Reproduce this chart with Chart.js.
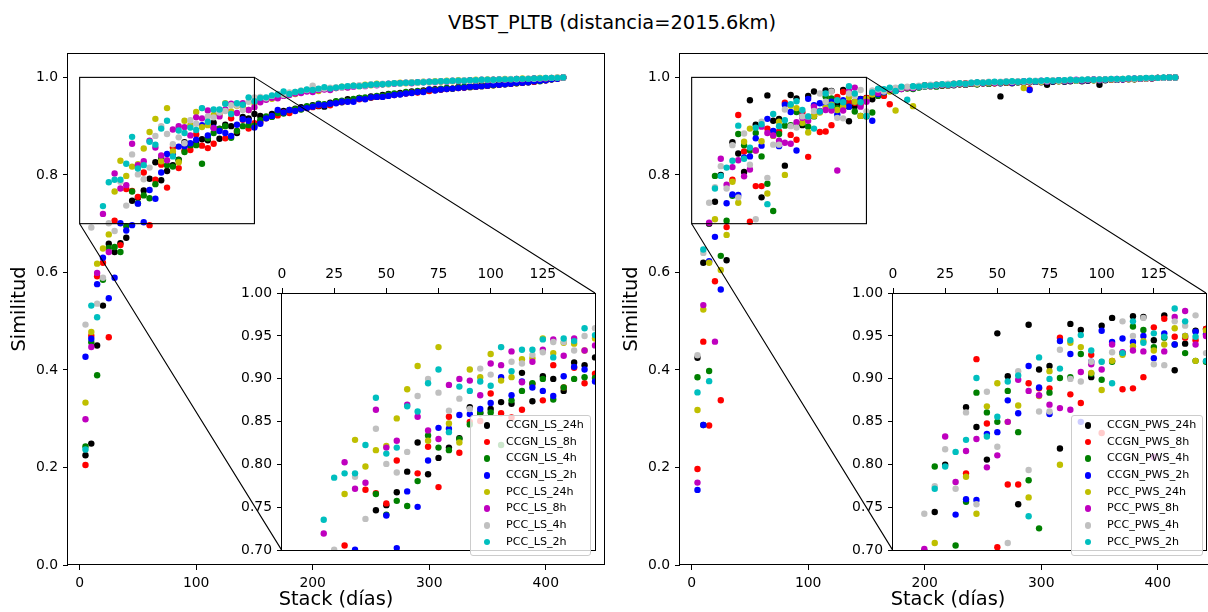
<!DOCTYPE html>
<html>
<head>
<meta charset="utf-8">
<script src="https://cdn.jsdelivr.net/npm/chart.js@4.4.1/dist/chart.umd.min.js"></script>
<style>
  html, body { margin: 0; padding: 0; background: #fff; overflow: hidden; }
  #fig { position: relative; width: 1208px; height: 612px; overflow: hidden; font-family: 'DejaVu Sans', sans-serif; color: #000; }
  #fig canvas { position: absolute; }
  #title { position: absolute; left: 0; width: 1224px; top: 11px; line-height: 23px; text-align: center; font-size: 19.4px; }
  .legend { position: absolute; background: rgba(255,255,255,0.8); border: 1px solid #cccccc; border-radius: 3px;
            font-size: 11.1px; padding: 1px 6px 4px 0; box-sizing: border-box; }
  .legend div { position: relative; height: 16.7px; line-height: 16.7px; padding-left: 35px; white-space: nowrap; }
  .legend span { position: absolute; left: 12.5px; top: 5px; width: 6.6px; height: 6.6px; border-radius: 50%; }
</style>
</head>
<body>
<div id="fig">
  <div id="title">VBST_PLTB (distancia=2015.6km)</div>
  <canvas id="mainLs" width="612" height="612" style="left:0;top:0"></canvas>
  <canvas id="mainPws" width="612" height="612" style="left:612px;top:0"></canvas>
  <canvas id="insetLs" width="380" height="306" style="left:222px;top:258px"></canvas>
  <canvas id="insetPws" width="380" height="306" style="left:833px;top:258px"></canvas>
  <div class="legend" id="legLs" style="left:470px;top:415px"></div>
  <div class="legend" id="legPws" style="left:1071px;top:415px"></div>
</div>
<script>
// stack length in days (same for every series)
const stackDays = [5,10,15,20,25,30,35,40,45,50,55,60,65,70,75,80,85,90,95,100,105,110,115,120,125,130,135,140,145,150,
  155,160,165,170,175,180,185,190,195,200,205,210,215,220,225,230,235,240,245,250,255,260,265,270,275,280,285,290,295,300,
  305,310,315,320,325,330,335,340,345,350,355,360,365,370,375,380,385,390,395,400,405,410,415];

const lsLabels = ['CCGN_LS_24h','CCGN_LS_8h','CCGN_LS_4h','CCGN_LS_2h','PCC_LS_24h','PCC_LS_8h','PCC_LS_4h','PCC_LS_2h'];
const pwsLabels = ['CCGN_PWS_24h','CCGN_PWS_8h','CCGN_PWS_4h','CCGN_PWS_2h','PCC_PWS_24h','PCC_PWS_8h','PCC_PWS_4h','PCC_PWS_2h'];

// left panel (LS)
const ccgnLs24h = [0.225,0.249,0.450,0.532,0.659,0.642,0.660,0.671,0.747,0.753,0.768,0.792,0.826,0.789,0.808,0.820,0.831,0.867,0.860,0.865,0.873,0.871,0.907,0.874,0.903,0.900,0.886,0.919,0.916,0.925,
  0.921,0.917,0.925,0.929,0.931,0.930,0.936,0.939,0.938,0.943,0.941,0.940,0.948,0.950,0.949,0.955,0.954,0.958,0.956,0.961,0.960,0.964,0.966,0.965,0.968,0.968,0.971,0.970,0.973,0.973,0.976,0.975,0.978,0.977,0.980,0.979,0.982,0.981,0.984,0.983,0.986,0.985,0.988,0.987,0.990,0.989,0.992,0.991,0.994,0.994,0.996,0.998,1.0];
const ccgnLs8h = [0.205,0.470,0.592,0.620,0.467,0.706,0.656,0.771,0.767,0.755,0.805,0.697,0.790,0.821,0.774,0.856,0.814,0.850,0.851,0.883,0.860,0.855,0.864,0.894,0.875,0.916,0.890,0.913,0.895,0.906,
  0.908,0.916,0.920,0.922,0.928,0.927,0.933,0.935,0.937,0.939,0.942,0.944,0.943,0.948,0.950,0.951,0.954,0.955,0.957,0.958,0.960,0.961,0.963,0.964,0.966,0.967,0.969,0.969,0.971,0.972,0.974,0.975,0.976,0.977,0.978,0.979,0.980,0.981,0.982,0.983,0.984,0.985,0.986,0.987,0.988,0.989,0.990,0.991,0.993,0.994,0.996,0.997,1.0];
const ccgnLs4h = [0.243,0.457,0.389,0.585,0.650,0.652,0.642,0.695,0.766,0.742,0.758,0.752,0.781,0.834,0.820,0.817,0.830,0.847,0.861,0.861,0.823,0.875,0.886,0.895,0.900,0.876,0.890,0.900,0.902,0.901,
  0.912,0.920,0.919,0.927,0.926,0.933,0.935,0.934,0.941,0.942,0.946,0.945,0.946,0.951,0.952,0.952,0.956,0.958,0.959,0.959,0.962,0.962,0.965,0.967,0.966,0.970,0.969,0.972,0.971,0.975,0.974,0.977,0.978,0.977,0.980,0.981,0.980,0.983,0.982,0.985,0.984,0.987,0.986,0.989,0.988,0.991,0.990,0.993,0.992,0.995,0.996,0.998,1.0];
const ccgnLs2h = [0.427,0.464,0.576,0.630,0.547,0.589,0.701,0.686,0.697,0.741,0.703,0.769,0.751,0.805,0.843,0.842,0.858,0.859,0.865,0.872,0.902,0.881,0.897,0.890,0.886,0.880,0.903,0.914,0.911,0.897,
  0.905,0.916,0.921,0.933,0.928,0.933,0.931,0.936,0.937,0.940,0.944,0.943,0.946,0.947,0.950,0.950,0.950,0.956,0.955,0.959,0.960,0.960,0.962,0.964,0.965,0.967,0.968,0.970,0.970,0.975,0.973,0.975,0.976,0.977,0.978,0.979,0.981,0.981,0.982,0.983,0.985,0.985,0.986,0.987,0.989,0.989,0.990,0.992,0.993,0.994,0.996,0.997,1.0];
const pccLs24h = [0.333,0.478,0.618,0.649,0.678,0.766,0.829,0.798,0.817,0.822,0.854,0.888,0.915,0.828,0.937,0.848,0.826,0.911,0.902,0.929,0.898,0.902,0.923,0.924,0.947,0.930,0.942,0.941,0.933,0.947,
  0.952,0.957,0.956,0.961,0.963,0.968,0.966,0.970,0.973,0.975,0.972,0.976,0.978,0.978,0.981,0.980,0.983,0.982,0.985,0.984,0.987,0.986,0.986,0.988,0.989,0.988,0.990,0.989,0.991,0.990,0.992,0.991,0.993,0.992,0.994,0.993,0.994,0.995,0.994,0.996,0.995,0.996,0.997,0.996,0.997,0.998,0.997,0.998,0.999,0.998,0.999,1.0,1.0];
const pccLs8h = [0.299,0.447,0.599,0.720,0.642,0.803,0.772,0.779,0.864,0.820,0.828,0.870,0.856,0.840,0.830,0.893,0.900,0.898,0.881,0.918,0.916,0.932,0.896,0.920,0.934,0.946,0.927,0.947,0.933,0.939,
  0.949,0.954,0.958,0.957,0.962,0.964,0.967,0.968,0.971,0.970,0.974,0.975,0.974,0.978,0.979,0.979,0.981,0.983,0.982,0.985,0.984,0.986,0.987,0.987,0.988,0.989,0.988,0.990,0.990,0.991,0.990,0.992,0.991,0.993,0.992,0.993,0.994,0.993,0.995,0.994,0.995,0.996,0.995,0.996,0.997,0.996,0.997,0.998,0.997,0.998,0.999,0.999,1.0];
const pccLs4h = [0.493,0.692,0.536,0.589,0.701,0.685,0.786,0.737,0.842,0.801,0.791,0.815,0.880,0.900,0.884,0.863,0.877,0.865,0.912,0.905,0.937,0.920,0.918,0.928,0.931,0.943,0.943,0.933,0.950,0.959,
  0.960,0.957,0.962,0.966,0.964,0.969,0.970,0.973,0.974,0.983,0.976,0.977,0.979,0.980,0.979,0.982,0.983,0.984,0.983,0.986,0.985,0.987,0.986,0.988,0.987,0.989,0.990,0.989,0.991,0.990,0.991,0.992,0.992,0.993,0.993,0.994,0.993,0.994,0.995,0.995,0.994,0.996,0.996,0.997,0.996,0.997,0.998,0.997,0.998,0.999,0.999,1.0,1.0];
const pccLs2h = [0.237,0.532,0.508,0.736,0.785,0.790,0.790,0.823,0.878,0.813,0.820,0.868,0.862,0.895,0.911,0.838,0.891,0.886,0.897,0.892,0.937,0.909,0.934,0.934,0.946,0.925,0.947,0.944,0.959,0.951,
  0.958,0.959,0.963,0.965,0.971,0.966,0.970,0.972,0.975,0.974,0.977,0.980,0.977,0.979,0.981,0.982,0.983,0.982,0.984,0.985,0.986,0.986,0.987,0.988,0.988,0.989,0.989,0.990,0.990,0.991,0.991,0.992,0.992,0.993,0.993,0.993,0.994,0.994,0.995,0.995,0.995,0.996,0.996,0.996,0.997,0.997,0.997,0.998,0.998,0.999,0.999,0.999,1.0];

// right panel (PWS)
const ccgnPws24h = [0.425,0.620,0.700,0.745,0.800,0.625,0.867,0.844,0.806,0.953,0.903,0.754,0.963,0.911,0.915,0.819,0.964,0.957,0.902,0.962,0.971,0.930,0.973,0.972,0.945,0.974,0.910,0.941,0.956,0.958,
  0.955,0.968,0.974,0.976,0.975,0.979,0.978,0.981,0.980,0.983,0.982,0.984,0.983,0.985,0.984,0.986,0.985,0.987,0.986,0.988,0.987,0.988,0.961,0.989,0.988,0.990,0.989,0.990,0.991,0.990,0.985,0.991,0.992,0.991,0.992,0.993,0.992,0.993,0.994,0.985,0.994,0.995,0.995,0.996,0.996,0.997,0.997,0.998,0.998,0.999,0.999,1.0,1.0];
const ccgnPws8h = [0.197,0.458,0.286,0.582,0.338,0.693,0.790,0.923,0.848,0.704,0.777,0.777,0.895,0.889,0.889,0.948,0.882,0.872,0.928,0.837,0.921,0.888,0.889,0.902,0.960,0.970,0.949,0.948,0.945,0.958,
  0.968,0.972,0.962,0.945,0.977,0.979,0.980,0.979,0.982,0.984,0.983,0.985,0.984,0.986,0.987,0.986,0.988,0.987,0.989,0.988,0.989,0.988,0.990,0.989,0.990,0.991,0.990,0.976,0.991,0.992,0.991,0.992,0.993,0.992,0.993,0.994,0.993,0.994,0.995,0.994,0.995,0.996,0.995,0.996,0.997,0.996,0.997,0.998,0.998,0.999,0.999,1.0,1.0];
const ccgnPws4h = [0.385,0.287,0.398,0.798,0.634,0.706,0.757,0.884,0.861,0.850,0.886,0.838,0.782,0.726,0.884,0.901,0.902,0.929,0.906,0.899,0.920,0.930,0.961,0.957,0.937,0.948,0.940,0.930,0.921,0.920,
  0.928,0.962,0.969,0.973,0.972,0.976,0.977,0.976,0.979,0.981,0.982,0.981,0.984,0.983,0.985,0.986,0.985,0.987,0.986,0.988,0.987,0.989,0.988,0.990,0.989,0.990,0.991,0.990,0.991,0.992,0.991,0.992,0.993,0.992,0.993,0.994,0.993,0.994,0.995,0.994,0.995,0.996,0.995,0.996,0.997,0.996,0.997,0.998,0.998,0.999,0.999,1.0,1.0];
const ccgnPws2h = [0.154,0.287,0.623,0.673,0.565,0.742,0.760,0.759,0.836,0.838,0.875,0.860,0.915,0.890,0.859,0.944,0.929,0.850,0.920,0.956,0.943,0.947,0.943,0.950,0.924,0.953,0.940,0.950,0.955,0.952,
  0.911,0.966,0.970,0.974,0.973,0.977,0.979,0.978,0.981,0.982,0.984,0.983,0.985,0.986,0.985,0.987,0.986,0.988,0.987,0.989,0.988,0.989,0.988,0.990,0.989,0.990,0.991,0.974,0.991,0.992,0.991,0.992,0.993,0.992,0.993,0.994,0.993,0.994,0.995,0.994,0.995,0.996,0.995,0.996,0.997,0.997,0.998,0.997,0.998,0.999,0.999,1.0,1.0];
const pccPws24h = [0.318,0.524,0.620,0.709,0.605,0.677,0.786,0.743,0.868,0.895,0.850,0.869,0.762,0.880,0.909,0.800,0.942,0.937,0.907,0.887,0.921,0.928,0.938,0.944,0.933,0.940,0.959,0.950,0.921,0.956,
  0.965,0.970,0.973,0.971,0.932,0.977,0.979,0.941,0.981,0.983,0.982,0.984,0.985,0.984,0.986,0.987,0.986,0.988,0.987,0.989,0.988,0.990,0.989,0.990,0.991,0.990,0.978,0.991,0.992,0.991,0.992,0.993,0.992,0.993,0.994,0.993,0.994,0.995,0.994,0.995,0.996,0.995,0.996,0.997,0.996,0.997,0.998,0.997,0.998,0.999,0.999,1.0,1.0];
const pccPws8h = [0.169,0.533,0.702,0.458,0.833,0.780,0.816,0.830,0.797,0.811,0.850,0.899,0.886,0.881,0.870,0.866,0.864,0.908,0.917,0.911,0.940,0.931,0.933,0.932,0.809,0.932,0.972,0.979,0.940,0.950,
  0.970,0.968,0.973,0.975,0.977,0.976,0.979,0.978,0.981,0.983,0.982,0.984,0.985,0.984,0.986,0.987,0.986,0.988,0.989,0.988,0.990,0.989,0.990,0.991,0.990,0.991,0.992,0.991,0.992,0.993,0.992,0.993,0.994,0.993,0.994,0.995,0.994,0.995,0.996,0.995,0.996,0.996,0.997,0.996,0.997,0.998,0.997,0.998,0.998,0.999,0.999,1.0,1.0];
const pccPws4h = [0.430,0.640,0.743,0.775,0.818,0.772,0.861,0.754,0.885,0.821,0.709,0.909,0.794,0.862,0.862,0.934,0.900,0.897,0.920,0.920,0.931,0.967,0.950,0.971,0.917,0.916,0.967,0.962,0.974,0.930,
  0.973,0.975,0.971,0.977,0.979,0.978,0.981,0.980,0.983,0.982,0.985,0.984,0.986,0.987,0.986,0.988,0.987,0.989,0.988,0.990,0.991,0.990,0.991,0.992,0.991,0.992,0.991,0.992,0.993,0.992,0.993,0.994,0.993,0.994,0.995,0.994,0.995,0.996,0.995,0.996,0.996,0.997,0.996,0.997,0.998,0.997,0.998,0.998,0.999,0.999,0.999,1.0,1.0];
const pccPws2h = [0.354,0.647,0.377,0.772,0.798,0.815,0.829,0.901,0.833,0.856,0.897,0.904,0.740,0.925,0.900,0.912,0.945,0.951,0.933,0.920,0.895,0.930,0.967,0.942,0.953,0.949,0.982,0.967,0.949,0.921,
  0.969,0.977,0.976,0.979,0.972,0.981,0.954,0.982,0.981,0.984,0.983,0.985,0.986,0.985,0.987,0.988,0.987,0.989,0.990,0.989,0.990,0.991,0.990,0.991,0.992,0.991,0.992,0.993,0.992,0.993,0.994,0.993,0.994,0.994,0.995,0.994,0.995,0.996,0.995,0.996,0.996,0.997,0.997,0.997,0.998,0.998,0.998,0.999,0.999,0.999,1.0,1.0,1.0];

const lsSeries = [ccgnLs24h, ccgnLs8h, ccgnLs4h, ccgnLs2h, pccLs24h, pccLs8h, pccLs4h, pccLs2h];
const pwsSeries = [ccgnPws24h, ccgnPws8h, ccgnPws4h, ccgnPws2h, pccPws24h, pccPws8h, pccPws4h, pccPws2h];

const mainXTicks = [0, 100, 200, 300, 400];
const mainYTicks = [0.0, 0.2, 0.4, 0.6, 0.8, 1.0];
const insetXTicks = [0, 25, 50, 75, 100, 125];
const insetYTicks = [0.70, 0.75, 0.80, 0.85, 0.90, 0.95, 1.00];
const insetXRange = [0, 150];
const insetYRange = [0.70, 1.00];

const seriesColors = ['#000000', '#ff0000', '#008000', '#0000ff', '#bfbf00', '#bf00bf', '#c0c0c0', '#00bfbf'];

Chart.defaults.font.family = "'DejaVu Sans', sans-serif";
Chart.defaults.color = '#000';

function makeDatasets(labels, series, clipped) {
  return series.map((vals, i) => ({
    label: labels[i],
    data: stackDays.map((d, j) => ({ x: d, y: vals[j] })),
    backgroundColor: seriesColors[i],
    borderWidth: 0,
    pointRadius: 3.2,
    pointHoverRadius: 3.2,
    order: series.length - i,
    clip: clipped ? 0 : undefined
  }));
}

const framePlugin = {
  id: 'frame',
  afterDraw(chart) {
    const { ctx, chartArea: a } = chart;
    ctx.save();
    ctx.strokeStyle = '#000';
    ctx.lineWidth = 1;
    ctx.strokeRect(Math.round(a.left) - 0.5, Math.round(a.top) + 0.5,
      Math.round(a.right - a.left) + 1, Math.round(a.bottom - a.top) - 1);
    ctx.restore();
  }
};

const whiteArea = {
  id: 'whiteArea',
  beforeDraw(chart) {
    const { ctx, chartArea: a } = chart;
    ctx.save();
    ctx.fillStyle = '#fff';
    ctx.fillRect(a.left, a.top, a.right - a.left, a.bottom - a.top);
    ctx.restore();
  }
};

function axisCommon(extra) {
  return Object.assign({
    type: 'linear',
    grid: { drawOnChartArea: false, drawTicks: true, tickLength: 5, color: '#000', lineWidth: 1 },
    border: { display: false }
  }, extra);
}

function buildInset(id, labels, series) {
  return new Chart(document.getElementById(id), {
    type: 'scatter',
    data: { datasets: makeDatasets(labels, series, true) },
    options: {
      responsive: false, animation: false, events: [],
      layout: { padding: { left: 0, top: 0, right: 7, bottom: 7 } },
      plugins: { legend: { display: false }, tooltip: { enabled: false } },
      scales: {
        x: axisCommon({
          position: 'top', min: insetXRange[0], max: insetXRange[1],
          afterFit: s => { s.height = 35; },
          afterBuildTicks: s => { s.ticks = insetXTicks.map(v => ({ value: v })); },
          ticks: { padding: 5, autoSkip: false, maxRotation: 0, font: { size: 13.9 }, color: '#000', callback: v => String(v) }
        }),
        y: axisCommon({
          min: insetYRange[0], max: insetYRange[1],
          afterFit: s => { s.width = 60; },
          afterBuildTicks: s => { s.ticks = insetYTicks.map(v => ({ value: v })); },
          ticks: { padding: 5, autoSkip: false, font: { size: 13.9 }, color: '#000', callback: v => Number(v).toFixed(2) }
        })
      }
    },
    plugins: [whiteArea, framePlugin]
  });
}

function insetLinks(inset, dx, dy) {
  return {
    id: 'insetLinks',
    afterDatasetsDraw(chart) {
      const { ctx } = chart;
      const sx = chart.scales.x, sy = chart.scales.y;
      const l = sx.getPixelForValue(insetXRange[0]), r = sx.getPixelForValue(insetXRange[1]);
      const t = sy.getPixelForValue(insetYRange[1]), b = sy.getPixelForValue(insetYRange[0]);
      const ix = inset.scales.x, iy = inset.scales.y;
      const il = ix.getPixelForValue(insetXRange[0]) + dx, ir = ix.getPixelForValue(insetXRange[1]) + dx;
      const it = iy.getPixelForValue(insetYRange[1]) + dy, ib = iy.getPixelForValue(insetYRange[0]) + dy;
      ctx.save();
      ctx.strokeStyle = '#000';
      ctx.lineWidth = 1.1;
      ctx.strokeRect(l, t, r - l, b - t);
      ctx.beginPath();
      ctx.moveTo(r, t); ctx.lineTo(ir, it);
      ctx.moveTo(l, b); ctx.lineTo(il, ib);
      ctx.stroke();
      ctx.restore();
    }
  };
}

function buildMain(id, labels, series, inset, dx, dy) {
  return new Chart(document.getElementById(id), {
    type: 'scatter',
    data: { datasets: makeDatasets(labels, series, false) },
    options: {
      responsive: false, animation: false, events: [],
      layout: { padding: { left: 0, top: 53, right: 8, bottom: 0 } },
      plugins: { legend: { display: false }, tooltip: { enabled: false } },
      scales: {
        x: axisCommon({
          min: -10, max: 450,
          afterFit: s => { s.height = 47; },
          afterBuildTicks: s => { s.ticks = mainXTicks.map(v => ({ value: v })); },
          ticks: { padding: 5, autoSkip: false, maxRotation: 0, font: { size: 13.9 }, color: '#000', callback: v => String(v) },
          title: { display: true, text: 'Stack (días)', font: { size: 19.4 }, color: '#000', padding: { top: 0, bottom: 0 } }
        }),
        y: axisCommon({
          min: 0, max: 1.05,
          afterFit: s => { s.width = 68; },
          afterBuildTicks: s => { s.ticks = mainYTicks.map(v => ({ value: v })); },
          ticks: { padding: 5, autoSkip: false, font: { size: 13.9 }, color: '#000', callback: v => Number(v).toFixed(1) },
          title: { display: true, text: 'Similitud', font: { size: 19.4 }, color: '#000', padding: { top: 8, bottom: 0 } }
        })
      }
    },
    plugins: [framePlugin, insetLinks(inset, dx, dy)]
  });
}

function buildLegend(id, labels) {
  const box = document.getElementById(id);
  labels.forEach((name, i) => {
    const row = document.createElement('div');
    const dot = document.createElement('span');
    dot.style.background = seriesColors[i];
    row.appendChild(dot);
    row.appendChild(document.createTextNode(name));
    box.appendChild(row);
  });
}

const insetLs = buildInset('insetLs', lsLabels, lsSeries);
const insetPws = buildInset('insetPws', pwsLabels, pwsSeries);
buildMain('mainLs', lsLabels, lsSeries, insetLs, 222, 258);
buildMain('mainPws', pwsLabels, pwsSeries, insetPws, 833 - 612, 258);
buildLegend('legLs', lsLabels);
buildLegend('legPws', pwsLabels);
</script>
</body>
</html>
